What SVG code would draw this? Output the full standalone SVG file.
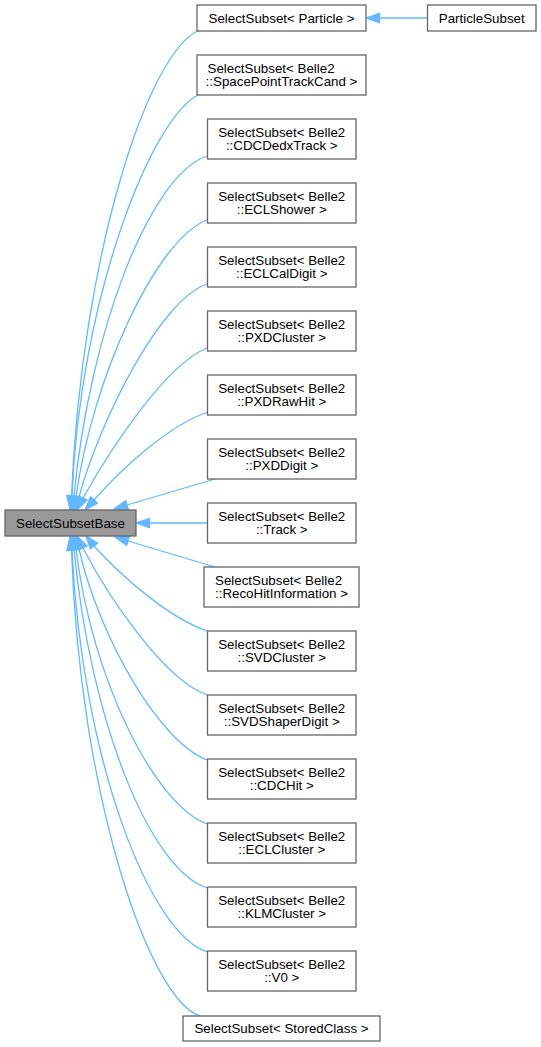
<svg xmlns="http://www.w3.org/2000/svg" width="541" height="1047" viewBox="0 0 541 1047">
<style>
.n rect{fill:#ffffff;stroke:#666666;stroke-width:1.3}
.b rect{fill:#999999;stroke:#666666;stroke-width:1.3}
text{font-family:"Liberation Sans",Arial,sans-serif;font-size:13.33px;fill:#000000;text-anchor:middle}
.e path{fill:none;stroke:#63b8ff;stroke-width:1.3}
.e polygon{fill:#63b8ff;stroke:#63b8ff;stroke-width:1.3}
</style>
<rect width="541" height="1047" fill="#ffffff"/>
<g class="e" id="edges">
<path d="M427.5,18 L379.5,18"/><polygon points="379.5,22.7 366,18 379.5,13.3"/>
<path d="M200,30 C150,48 82,250 71.5,496"/><polygon points="76.17,496.52 70,509.5 66.83,495.48"/>
<path d="M198,95 C150,120 80,300 72,496"/><polygon points="76.67,496.52 70.5,509.5 67.33,495.48"/>
<path d="M207,156 C150,175 90,330 74,496"/><polygon points="78.65,496.69 72,509.5 69.35,495.31"/>
<path d="M207,220 C155,240 92,380 76,497"/><polygon points="80.61,497.92 73.5,509.5 71.39,496.08"/>
<path d="M207,284 C160,300 100,420 79,497"/><polygon points="83.49,498.38 75,510 74.51,495.62"/>
<path d="M207,348 C165,365 110,450 83,498"/><polygon points="87.2,500.1 77,510 78.8,495.9"/>
<path d="M208,412 C170,425 125,465 94,500"/><polygon points="97.49,503.14 85,510 90.51,496.86"/>
<path d="M215,479 L127,505"/><polygon points="128.38,509.49 114,509 125.62,500.51"/>
<path d="M207.5,523 L149.5,523"/><polygon points="149.5,527.7 136,523 149.5,518.3"/>
<path d="M215,567 L128,541"/><polygon points="129.38,536.51 115,537 126.62,545.49"/>
<path d="M207,631 C170,618 125,580 94,546"/><polygon points="97.67,543.06 86,536 90.33,548.94"/>
<path d="M207,695 C165,680 110,600 83,548"/><polygon points="87.2,545.9 77,536 78.8,550.1"/>
<path d="M207,760 C160,742 100,640 79,549"/><polygon points="83.49,547.62 75,536 74.51,550.38"/>
<path d="M207,824 C155,805 92,680 76,549"/><polygon points="80.62,548.11 73.5,536 71.38,549.89"/>
<path d="M207,888 C150,870 90,720 74,549"/><polygon points="78.64,548.29 72,536 69.36,549.71"/>
<path d="M208,952 C150,935 82,760 72,550"/><polygon points="76.67,549.48 70.5,536.5 67.33,550.52"/>
<path d="M200,1016 C150,1000 80,800 71.5,550"/><polygon points="76.17,549.48 70,536.5 66.83,550.52"/>
</g>
<g class="b" id="SelectSubsetBase"><rect x="5" y="510" width="131" height="26"/><text x="70.5" y="527.5">SelectSubsetBase</text></g>
<g class="n" id="SelectSubsetParticle"><rect x="197" y="5" width="169" height="26"/><text x="281.5" y="22.5">SelectSubset&lt; Particle &gt;</text></g>
<g class="n" id="ParticleSubset"><rect x="427.5" y="5" width="108.5" height="26"/><text x="481.75" y="22.5">ParticleSubset</text></g>
<g class="n" id="SpacePointTrackCand"><rect x="197" y="55" width="169" height="40"/><text x="207.5" y="72.5" style="text-anchor:start">SelectSubset&lt; Belle2</text><text x="281.5" y="85.5">::SpacePointTrackCand &gt;</text></g>
<g class="n" id="CDCDedxTrack"><rect x="207.5" y="119" width="148.5" height="40"/><text x="281.75" y="136.5">SelectSubset&lt; Belle2</text><text x="281.75" y="149.5">::CDCDedxTrack &gt;</text></g>
<g class="n" id="ECLShower"><rect x="207.5" y="183" width="148.5" height="40"/><text x="281.75" y="200.5">SelectSubset&lt; Belle2</text><text x="281.75" y="213.5">::ECLShower &gt;</text></g>
<g class="n" id="ECLCalDigit"><rect x="207.5" y="247" width="148.5" height="40"/><text x="281.75" y="264.5">SelectSubset&lt; Belle2</text><text x="281.75" y="277.5">::ECLCalDigit &gt;</text></g>
<g class="n" id="PXDCluster"><rect x="207.5" y="311" width="148.5" height="40"/><text x="281.75" y="328.5">SelectSubset&lt; Belle2</text><text x="281.75" y="341.5">::PXDCluster &gt;</text></g>
<g class="n" id="PXDRawHit"><rect x="207.5" y="375" width="148.5" height="40"/><text x="281.75" y="392.5">SelectSubset&lt; Belle2</text><text x="281.75" y="405.5">::PXDRawHit &gt;</text></g>
<g class="n" id="PXDDigit"><rect x="207.5" y="439" width="148.5" height="40"/><text x="281.75" y="456.5">SelectSubset&lt; Belle2</text><text x="281.75" y="469.5">::PXDDigit &gt;</text></g>
<g class="n" id="Track"><rect x="207.5" y="503" width="148.5" height="40"/><text x="281.75" y="520.5">SelectSubset&lt; Belle2</text><text x="281.75" y="533.5">::Track &gt;</text></g>
<g class="n" id="RecoHitInformation"><rect x="204" y="567" width="155" height="40"/><text x="215" y="584.5" style="text-anchor:start">SelectSubset&lt; Belle2</text><text x="281.5" y="597.5">::RecoHitInformation &gt;</text></g>
<g class="n" id="SVDCluster"><rect x="207.5" y="631" width="148.5" height="40"/><text x="281.75" y="648.5">SelectSubset&lt; Belle2</text><text x="281.75" y="661.5">::SVDCluster &gt;</text></g>
<g class="n" id="SVDShaperDigit"><rect x="207.5" y="695" width="148.5" height="40"/><text x="281.75" y="712.5">SelectSubset&lt; Belle2</text><text x="281.75" y="725.5">::SVDShaperDigit &gt;</text></g>
<g class="n" id="CDCHit"><rect x="207.5" y="759" width="148.5" height="40"/><text x="281.75" y="776.5">SelectSubset&lt; Belle2</text><text x="281.75" y="789.5">::CDCHit &gt;</text></g>
<g class="n" id="ECLCluster"><rect x="207.5" y="823" width="148.5" height="40"/><text x="281.75" y="840.5">SelectSubset&lt; Belle2</text><text x="281.75" y="853.5">::ECLCluster &gt;</text></g>
<g class="n" id="KLMCluster"><rect x="207.5" y="887" width="148.5" height="40"/><text x="281.75" y="904.5">SelectSubset&lt; Belle2</text><text x="281.75" y="917.5">::KLMCluster &gt;</text></g>
<g class="n" id="V0"><rect x="207.5" y="951" width="148.5" height="40"/><text x="281.75" y="968.5">SelectSubset&lt; Belle2</text><text x="281.75" y="981.5">::V0 &gt;</text></g>
<g class="n" id="StoredClass"><rect x="183" y="1016" width="197" height="25"/><text x="281.5" y="1033">SelectSubset&lt; StoredClass &gt;</text></g>
</svg>
